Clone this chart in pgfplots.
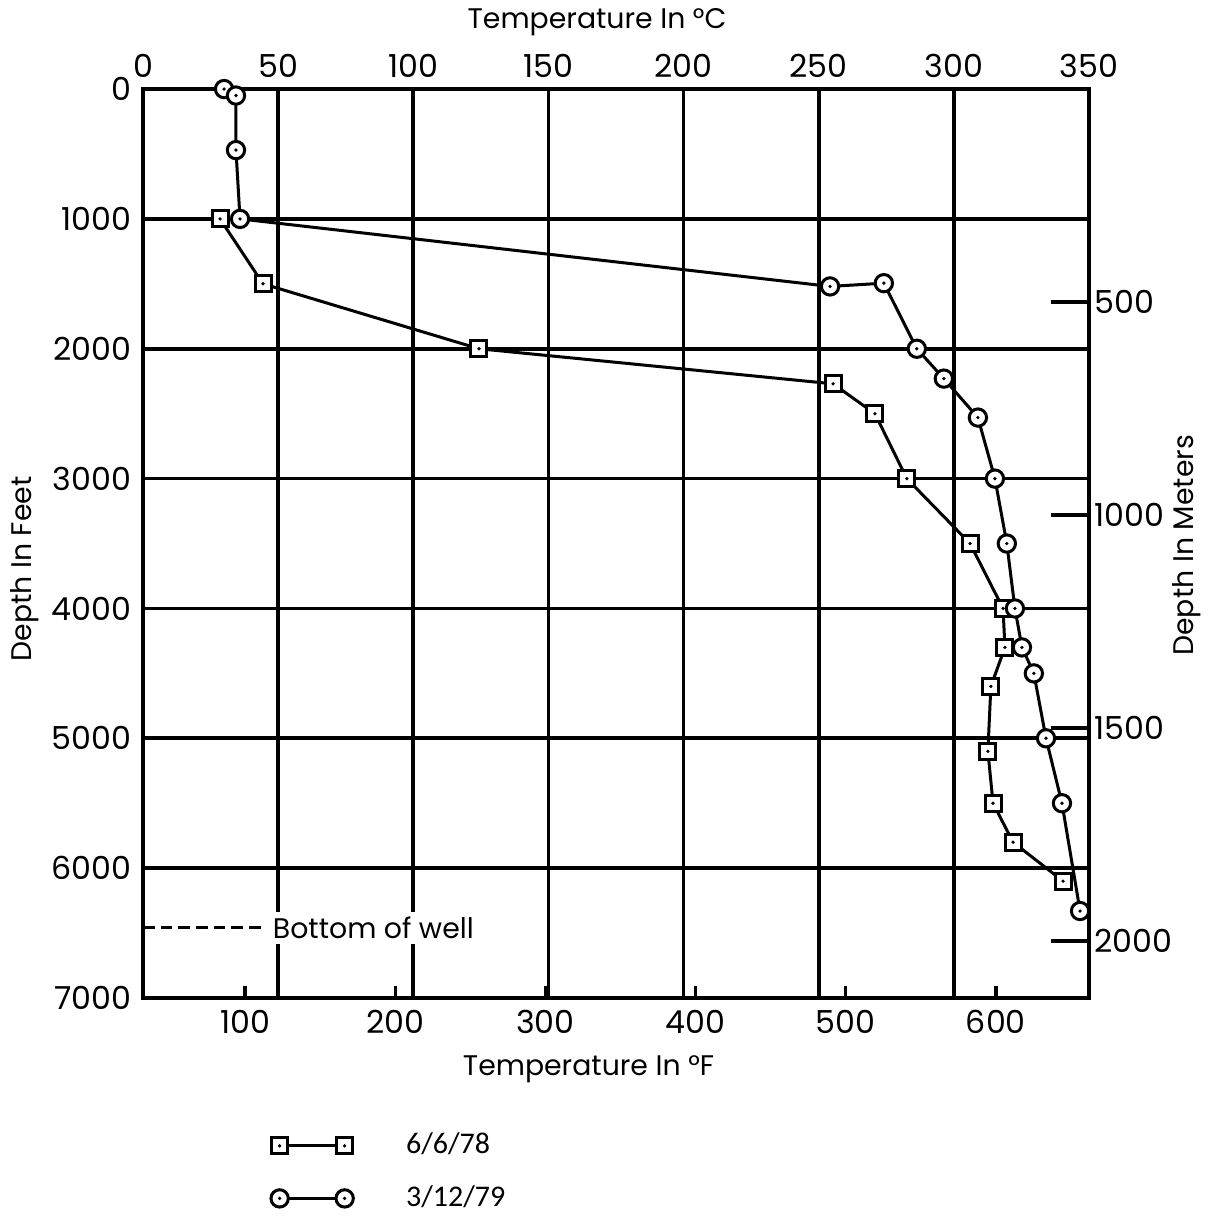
\documentclass[border=0pt]{standalone}
\usepackage{fontspec}
\setmainfont{Poppins}
\newfontfamily\legfont{Carlito}
\usepackage{pgfplots}
\pgfplotsset{compat=1.18}
\pgfdeclareplotmark{sqdot}{%
 \pgfpathrectangle{\pgfqpoint{-\pgfplotmarksize}{-\pgfplotmarksize}}{\pgfqpoint{2\pgfplotmarksize}{2\pgfplotmarksize}}%
 \pgfusepathqfillstroke
 \begin{pgfscope}\pgfsetfillcolor{black}%
 \pgfpathcircle{\pgfpointorigin}{0.55pt}%
 \pgfusepathqfill\end{pgfscope}}
\pgfdeclareplotmark{cirdot}{%
 \pgfpathcircle{\pgfpointorigin}{\pgfplotmarksize}%
 \pgfusepathqfillstroke
 \begin{pgfscope}\pgfsetfillcolor{black}%
 \pgfpathcircle{\pgfpointorigin}{0.55pt}%
 \pgfusepathqfill\end{pgfscope}}
\pgfplotsset{
  common/.style={width=283.8pt,height=272.7pt,scale only axis,
    xmin=0,xmax=350,ymin=0,ymax=7000,y dir=reverse,
    at={(0,0)},anchor=south west,
    axis line style={line width=1.3pt},
    tick style={line width=1pt,black},
    ticklabel style={font=\fontsize{9.5}{11}\selectfont},
    label style={font=\fontsize{8.5}{10}\selectfont,inner sep=0.5pt,anchor=center},
    /pgf/number format/assume math mode=true,
    /pgf/number format/1000 sep={}},
}
\begin{document}
\begin{tikzpicture}
\path (-42.9pt,-65.4pt) rectangle (321pt,299.4pt);
\begin{axis}[common,
  xtick={0,50,...,350}, xticklabel pos=upper,
  ytick={0,1000,...,7000}, yticklabel pos=left,
  xmajorgrids, ymajorgrids, major tick length=0pt,
  grid style={black,line width=1.1pt},
  xlabel={Temperature In °C}, ylabel={Depth In Feet},
  xlabel style={at={(axis description cs:0.480,1.0737)}},
  ylabel style={at={(axis description cs:-0.1247,0.472)}},
  legend style={draw=none,fill=none,inner sep=0pt,outer sep=0pt,
    at={(0.1353,-0.1485)},anchor=north west,
    nodes={inner sep=0pt},
    font=\legfont\fontsize{9}{10}\selectfont,row sep=8pt,cells={anchor=west}},
  legend cell align=left,
  legend image code/.code={\draw[#1] plot coordinates {(0pt,0pt) (19.5pt,0pt)}; \path (37.5pt,0pt);},
]
\addplot[black,line width=0.9pt,mark=sqdot,mark size=2.4pt,mark options={fill=white,line width=0.9pt,solid}]
 coordinates {(28.5,1000)(44.4,1500)(124.3,2000)(255.3,2270)(270.8,2500)(282.6,3000)(306.0,3500)(318.2,4000)(318.9,4300)(313.7,4600)(312.6,5100)(314.5,5500)(321.9,5800)(340.4,6100)};
\addplot[black,line width=0.9pt,mark=cirdot,mark size=2.6pt,mark options={fill=white,line width=0.9pt,solid}]
 coordinates {(30.0,0)(34.4,50)(34.4,470)(35.9,1000)(254.2,1520)(274.1,1495)(286.3,2000)(296.3,2230)(308.9,2530)(315.2,3000)(319.6,3500)(322.6,4000)(325.2,4300)(329.6,4500)(334.1,5000)(340.0,5500)(346.7,6330)};
\legend{6/6/78,3/12/79}
\addplot[black,line width=0.9pt,dash pattern=on 3.5pt off 1.8pt,forget plot] coordinates {(0,6460)(45.5,6460)};
\node[anchor=west,fill=white,inner sep=1.5pt,font=\fontsize{8.5}{10}\selectfont] at (axis cs:46,6460) {Bottom of well};
\end{axis}
\begin{axis}[common,
  axis x line*=bottom, axis y line=none,
  xtick={37.78,93.33,148.89,204.44,260,315.56},
  xticklabels={100,200,300,400,500,600},
  tick align=inside, major tick length=3.6pt,
  xlabel={Temperature In °F},
  xlabel style={at={(axis description cs:0.471,-0.0781)}},
]
\end{axis}
\begin{axis}[common,
  axis y line*=right, axis x line=none,
  ytick={1640.4,3280.8,4921.3,6561.7},
  yticklabels={500,1000,1500,2000},
  yticklabel style={xshift=-1.8pt},
  tick align=inside, major tick length=11.4pt,
  ylabel={Depth In Meters},
  ylabel style={at={(axis description cs:1.1036,0.498)}},
]
\end{axis}
\end{tikzpicture}
\end{document}
